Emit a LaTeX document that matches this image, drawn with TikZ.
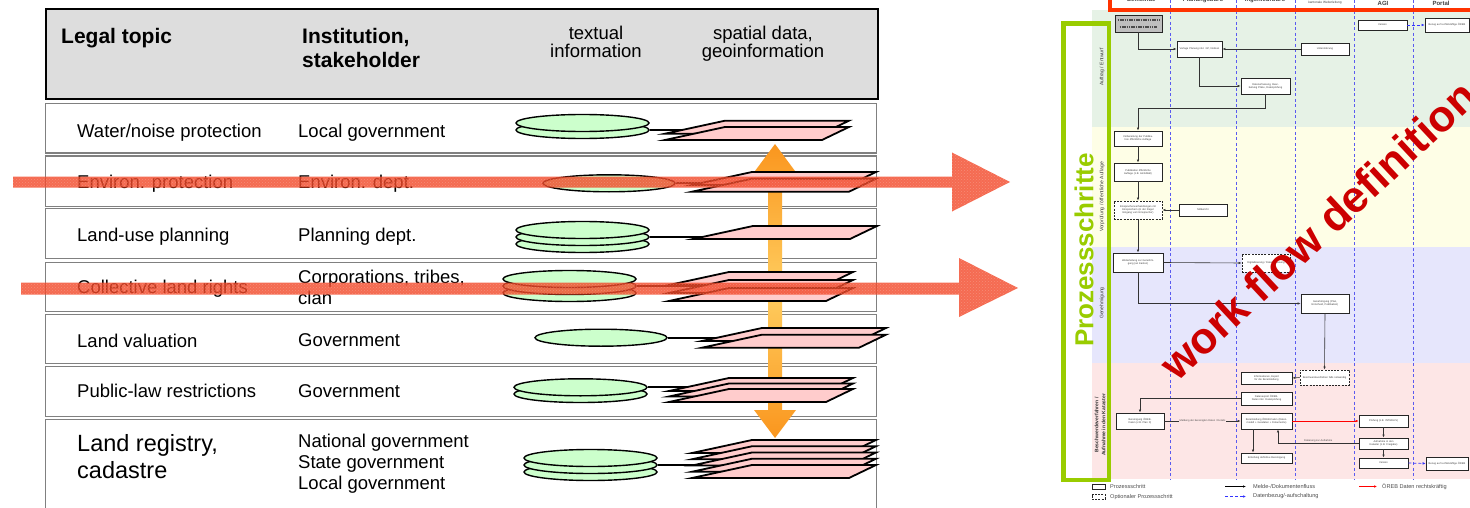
\documentclass[tikz,border=0pt]{standalone}
\usepackage{fontspec}
\setmainfont{Liberation Sans}
\usetikzlibrary{arrows.meta,patterns,shapes.geometric,calc}

\definecolor{hdrgray}{RGB}{221,221,221}
\definecolor{rowline}{RGB}{128,128,128}
\definecolor{discfill}{RGB}{204,255,204}
\definecolor{planefill}{RGB}{255,204,204}
\definecolor{arrowred}{RGB}{242,70,38}
\definecolor{orangedark}{RGB}{250,150,30}
\definecolor{orangelight}{RGB}{255,205,95}
\definecolor{lanegreen}{RGB}{230,242,230}
\definecolor{laneyellow}{RGB}{254,254,230}
\definecolor{laneblue}{RGB}{230,230,252}
\definecolor{lanepink}{RGB}{253,230,230}
\definecolor{procgreen}{RGB}{153,204,0}
\definecolor{hdrred}{RGB}{255,51,0}
\definecolor{wfred}{RGB}{204,0,0}
\definecolor{lanedash}{RGB}{90,90,240}

% one layer of spatial data: bottom-left corner at (#1,#2)
\newcommand{\geoplane}[2]{%
  \draw[planestyle] (#1,#2) -- ++(157,0) -- ++(27,-13) -- ++(-124,0) -- cycle;}

% process box of the swimlane chart
\newcommand{\wfbox}[6][]{%
  \pgfmathsetmacro\wftw{#4-3}%
  \node[flowbox,#1,minimum width=#4,minimum height=#5,text width=\wftw pt] (#2) at (#3) {#6};}

\begin{document}
\begin{tikzpicture}[x=1pt,y=-1pt,
  hdrbox/.style={draw=black,line width=1.8,fill=hdrgray,anchor=north west,minimum width=832,minimum height=90,inner sep=0},
  rowbox/.style={draw=rowline,line width=1.2,fill=white,anchor=north west,minimum width=831,inner sep=0},
  hdrtxt/.style={font=\bfseries\fontsize{21}{24}\selectfont,anchor=base west,inner sep=0},
  coltxt/.style={font=\fontsize{18.5}{21}\selectfont,anchor=base,inner sep=0},
  rowtxt/.style={font=\fontsize{18.5}{21}\selectfont,anchor=base west,inner sep=0},
  bigtxt/.style={font=\fontsize{23.5}{27}\selectfont,anchor=base west,inner sep=0},
  disc/.style={ellipse,draw=black,line width=1.4,fill=discfill,inner sep=0,minimum height=17},
  planestyle/.style={draw=black,line width=1.8,fill=planefill,line join=miter},
  link/.style={draw=black,line width=1.8},
  bigarrow/.style={fill=arrowred,fill opacity=0.8},
  arrowtex/.style={pattern=crosshatch dots,pattern color=white,opacity=0.22},
  lane/.style={inner sep=0,anchor=north west,minimum width=390},
  lanetxt/.style={font=\fontsize{5}{6}\selectfont,text=black!80,rotate=90,inner sep=0,align=center},
  flowbox/.style={draw=black!85,fill=white,line width=0.7,inner sep=0.3,align=center,
                  font=\fontsize{2.6}{3.1}\selectfont,text=black!75},
  optbox/.style={dashed,dash pattern=on 2pt off 1.2pt},
  flowk/.style={draw=black!80,line width=0.6,-{Latex[length=3,width=2.4]}},
  flowb/.style={draw=blue!80,line width=0.7,dash pattern=on 3pt off 2pt,-{Latex[length=3,width=2.6]}},
  flowr/.style={draw=red,line width=0.7,-{Latex[length=3,width=2.6]}},
  flowlbl/.style={font=\fontsize{2.6}{3}\selectfont,text=black!70,inner sep=0.4},
  wfhead/.style={font=\bfseries\fontsize{6}{7}\selectfont,text=black!75,anchor=base,inner sep=0},
  legtxt/.style={font=\fontsize{5.6}{6.5}\selectfont,text=black!70,anchor=west,inner sep=0},
  coldash/.style={draw=lanedash,line width=0.8,dash pattern=on 3pt off 2.5pt}
]
\useasboundingbox (0,0) rectangle (1470,508);

% ---------------- table of legal topics ----------------
\node[hdrbox] (hdr) at (45,8) {};
\node[hdrtxt] (hLegal) at (61,44) {Legal topic};
\node[hdrtxt] (hInstA) at (302,44) {Institution,};
\node[hdrtxt] (hInstB) at (302,68) {stakeholder};
\node[coltxt] (hTextA) at (596,40) {textual};
\node[coltxt] (hTextB) at (596,58) {information};
\node[coltxt] (hGeoA) at (763,40) {spatial data,};
\node[coltxt] (hGeoB) at (763,58) {geoinformation};

\node[rowbox,minimum height=49.5] (row1) at (45,103) {};
\node[rowbox,minimum height=50] (row2) at (45,155.5) {};
\node[rowbox,minimum height=50] (row3) at (45,208) {};
\node[rowbox,minimum height=49.5] (row4) at (45,261.5) {};
\node[rowbox,minimum height=49.5] (row5) at (45,313.5) {};
\node[rowbox,minimum height=50] (row6) at (45,366) {};
\node[rowbox,minimum height=110] (row7) at (45,419) {};

\node[rowtxt] (t1) at (77,138) {Water/noise protection};
\node[rowtxt] (i1) at (298,138) {Local government};
\node[rowtxt] (t2) at (77,188) {Environ. protection};
\node[rowtxt] (i2) at (298,188) {Environ. dept.};
\node[rowtxt] (t3) at (77,241) {Land-use planning};
\node[rowtxt] (i3) at (298,241) {Planning dept.};
\node[rowtxt] (t4) at (77,293) {Collective land rights};
\node[rowtxt] (i4a) at (298,283) {Corporations, tribes,};
\node[rowtxt] (i4b) at (298,304) {clan};
\node[rowtxt] (t5) at (77,347) {Land valuation};
\node[rowtxt] (i5) at (298,346) {Government};
\node[rowtxt] (t6) at (77,397) {Public-law restrictions};
\node[rowtxt] (i6) at (298,397) {Government};
\node[bigtxt] (t7a) at (77,451) {Land registry,};
\node[bigtxt] (t7b) at (77,478) {cadastre};
\node[rowtxt] (i7a) at (298,447) {National government};
\node[rowtxt] (i7b) at (298,468) {State government};
\node[rowtxt] (i7c) at (298,489) {Local government};

% orange double arrow behind the data layers
\path[top color=orangedark,bottom color=orangedark,middle color=orangelight]
  (775,144) -- (795,171) -- (782,171) -- (782,410) -- (796,410) -- (775,438)
  -- (754,410) -- (768,410) -- (768,171) -- (755,171) -- cycle;

% textual information: stacked discs (lowest first)
\node[disc,minimum width=133] (d1b) at (582.5,130) {};
\node[disc,minimum width=133] (d1a) at (582.5,123) {};
\node[disc,minimum width=132] (d2a) at (609,183.3) {};
\node[disc,minimum width=133] (d3c) at (582.5,244) {};
\node[disc,minimum width=133] (d3b) at (582.5,237) {};
\node[disc,minimum width=133] (d3a) at (582.5,230) {};
\node[disc,minimum width=133] (d4c) at (569.5,293) {};
\node[disc,minimum width=133] (d4b) at (569.5,286) {};
\node[disc,minimum width=133] (d4a) at (569.5,279) {};
\node[disc,minimum width=132] (d5a) at (601,337.7) {};
\node[disc,minimum width=133] (d6b) at (580.5,394) {};
\node[disc,minimum width=133] (d6a) at (580.5,387.3) {};
\node[disc,minimum width=133] (d7c) at (590.5,472) {};
\node[disc,minimum width=133] (d7b) at (590.5,465) {};
\node[disc,minimum width=133] (d7a) at (590.5,458) {};

% link ends, hidden under the data layers
\coordinate (p1) at (705,130);
\coordinate (p2) at (715,183.3);
\coordinate (p3) at (715,237);
\coordinate (p4) at (700,286);
\coordinate (p5) at (725,337.7);
\coordinate (p6) at (700,387.3);
\coordinate (p7) at (715,465);
\draw[link] (d1b.east) -- (p1);
\draw[link] (d2a.east) -- (p2);
\draw[link] (d3b.east) -- (p3);
\draw[link] (d4b.east) -- (p4);
\draw[link] (d5a.east) -- (p5);
\draw[link] (d6a.east) -- (p6);
\draw[link] (d7b.east) -- (p7);

% spatial data: stacked layers (highest first)
\geoplane{665}{133.7}\geoplane{665}{140}
\geoplane{692}{185}\geoplane{692}{191.7}
\geoplane{693}{239}
\geoplane{669}{285}\geoplane{669}{293}\geoplane{669}{301}
\geoplane{702}{341}\geoplane{702}{347.7}
\geoplane{669}{391}\geoplane{669}{396.5}\geoplane{669}{402}
\geoplane{692}{453}\geoplane{692}{459.25}\geoplane{692}{465.5}\geoplane{692}{471.75}\geoplane{692}{478}

% ---------------- swimlane work flow ----------------
\node[lane,fill=lanegreen,minimum height=117] (lane1) at (1092,10) {};
\node[lane,fill=laneyellow,minimum height=120] (lane2) at (1092,127) {};
\node[lane,fill=laneblue,minimum height=116] (lane3) at (1092,247) {};
\node[lane,fill=lanepink,minimum height=116] (lane4) at (1092,363) {};
\fill[white] (1066,23) rectangle (1092,480);

\foreach \cx in {1170,1236,1295,1354,1413} \draw[coldash] (\cx,0) -- (\cx,479);

\draw[hdrred,line width=4] (1110,-10) rectangle (1490,10);
\node[wfhead] (c1) at (1141,2) {Gemeinde};
\node[wfhead] (c2) at (1203,2) {Planungsbüro};
\node[wfhead] (c3) at (1265,2) {Ingenieurbüro};
\node[wfhead,font=\fontsize{3.2}{4}\selectfont] (c4) at (1325,3.5) {kantonale Weiterleitung};
\node[wfhead] (c5) at (1383,6) {AGI};
\node[wfhead] (c6) at (1441,6) {Portal};

\node[lanetxt] (l1) at (1102,67) {Auftrag / Entwurf};
\node[lanetxt] (l2) at (1102,197) {Vorprüfung / öffentliche Auflage};
\node[lanetxt] (l3) at (1102,303) {Genehmigung};
\node[lanetxt,font=\bfseries\fontsize{5}{7}\selectfont] (l4) at (1100,425) {Beschwerdeverfahren /\\Aufnahme in den Kataster};

\draw[procgreen,line width=4.5] (1063.5,23.5) rectangle (1109,480);
\node[font=\bfseries\fontsize{26}{28}\selectfont,text=procgreen,rotate=90,inner sep=0] (proc) at (1084,250) {Prozessschritte};

% process boxes
\node[flowbox,minimum width=47,minimum height=17,fill=black!25] (B1) at (1138.5,23.5) {};
\draw[black!70,line width=2.2,dash pattern=on 1.6pt off 0.7pt] ($(B1.west)+(3,-3.5)$) -- ($(B1.east)+(-3,-3.5)$);
\draw[black!70,line width=2.2,dash pattern=on 1.6pt off 0.7pt] ($(B1.west)+(5,3.5)$) -- ($(B1.east)+(-5,3.5)$);
\wfbox{B2}{1199.5,49}{45}{16}{Vorlage Planung inkl. GP, Notizen}
\wfbox{B3}{1325,49}{48}{12}{Unterstützung}
\wfbox{B4}{1265.5,86}{49}{16}{Datenerfassung, Bearbeitung Pläne, Datenprüfung}
\wfbox{B5}{1382.5,25}{49}{10}{Version}
\wfbox{B6}{1447,25}{44}{14}{Bezug auf rechtskräftige ÖREB}
\wfbox{B7}{1138,138.5}{48}{15}{Vorbereitung der Publikation öffentliche Auflage}
\wfbox{B8}{1138,172}{48}{18}{Publikation öffentliche Auflage (z.B. Amtsblatt)}
\wfbox[optbox]{B9}{1138,210}{48}{18}{Einsprachenverhandlungen mit Einsprechern (in der Regel Eingang vom Einsprecher)}
\wfbox{B10}{1203,210}{48}{12}{Mitbericht}
\wfbox{B11}{1138,262.5}{50}{19}{Weiterleitung zur Genehmigung (an Kanton)}
\wfbox[optbox]{B12}{1266,263}{48}{18}{Digitalisierung / Datenerfassung}
\wfbox{B13}{1325,303.5}{48}{19}{Genehmigung (Plan, Entscheid, Publikation)}
\wfbox[optbox]{B14}{1324.5,377.5}{49}{15}{Beschwerdeverfahren falls notwendig}
\wfbox{B15}{1266.5,378}{51}{12}{Informationen, Export für die Bereitstellung}
\wfbox{B16}{1266.5,398.5}{51}{13}{Datenexport ÖREB-Daten inkl. Datenprüfung}
\wfbox{B17}{1140,421}{48}{16}{Bereinigung ÖREB-Daten (z.B. Plan X)}
\wfbox{B18}{1266.5,421}{51}{16}{Bereitstellung ÖREB-Daten (Datenmodell + Geodaten + Dokumente)}
\wfbox{B19}{1266.5,458}{51}{10}{Erstellung definitive Bereinigung}
\wfbox{B20}{1383.5,421}{49}{12}{Prüfung (z.B. INTERLIS)}
\wfbox{B21}{1383.5,443.5}{49}{11}{Aufnahme in den Kataster (z.B. Freigabe)}
\wfbox{B22}{1383.5,463}{49}{10}{Version}
\wfbox{B23}{1447,463.5}{42}{13}{Bezug auf rechtskräftige ÖREB}

% flow connectors
\coordinate (k1) at (1138,108);
\coordinate (k2) at (1278,443.5);
\coordinate (k3) at (1253,0);
\draw[flowk] (B1.south) |- (B2.west);
\draw[flowk] (B3.west) -- (B2.east);
\draw[flowk] (B2.south) |- (B4.west);
\draw[flowk] (B4.south) |- (k1) -- (B7.north);
\draw[flowk] (B7.south) -- (B8.north);
\draw[flowk] (B8.south) -- (B9.north);
\draw[flowk] (B10.west) -- (B9.east);
\draw[flowk] (B9.south) -- (B11.north);
\draw[flowk] (B11.east) -- (B12.west);
\draw[flowk] (B11.south) |- (B13.west);
\draw[flowk] (B13.south) -- (B14.north);
\draw[flowk] (B14.west) -- (B15.east);
\draw[flowk] (B16.west) -| (B17.north);
\draw[flowk] (B17.east) -- node[flowlbl,fill=lanepink,above=-1.5] (m1) {Meldung der bereinigten Daten / Details} (B18.west);
\draw[flowr] (B18.east) -- (B20.west);
\draw[flowk] (B20.south) -- (B21.north);
\draw[flowk] (B21.west) -- node[flowlbl,above=0.6] (m2) {Datierung zur Aufnahme} (k2) -- (k2 |- B18.south);
\draw[flowk] (B18.south -| k3) -- (B19.north -| k3);
\draw[flowk] (B21.south) -- (B22.north);
\draw[flowb] (B22.east) -- (B23.west);
\draw[flowb] (B5.east) -- (B6.west);

% legend
\node[flowbox,minimum width=13,minimum height=4.5] (lg1) at (1098.5,487) {};
\node[legtxt] (lg1t) at (1110,486.5) {Prozessschritt};
\node[flowbox,optbox,minimum width=13,minimum height=4.5] (lg2) at (1098.5,497) {};
\node[legtxt] (lg2t) at (1110,497) {Optionaler Prozessschritt};
\coordinate (lg3a) at (1225,486.5); \coordinate (lg3b) at (1246,486.5);
\draw[flowk,draw=black] (lg3a) -- (lg3b);
\node[legtxt] (lg3t) at (1253,486.5) {Melde-/Dokumentenfluss};
\coordinate (lg4a) at (1225,496.5); \coordinate (lg4b) at (1246,496.5);
\draw[flowb] (lg4a) -- (lg4b);
\node[legtxt] (lg4t) at (1253,496.5) {Datenbezug/-aufschaltung};
\coordinate (lg5a) at (1359,486.5); \coordinate (lg5b) at (1377,486.5);
\draw[flowr] (lg5a) -- (lg5b);
\node[legtxt] (lg5t) at (1382,486.5) {ÖREB Daten rechtskräftig};

\node[font=\bfseries\fontsize{44}{44}\selectfont,text=wfred,rotate=43,inner sep=0] (wf) at (1318,230) {work flow definition};

% ---------------- translucent red arrows across the table ----------------
\path[bigarrow] (13,176.5) -- (952,176.5) -- (952,152.5) -- (1010,182) -- (952,211.5) -- (952,187.5) -- (13,187.5) -- cycle;
\path[arrowtex] (13,176.5) -- (952,176.5) -- (952,152.5) -- (1010,182) -- (952,211.5) -- (952,187.5) -- (13,187.5) -- cycle;
\path[bigarrow] (21,282.5) -- (959,282.5) -- (959,258) -- (1018,288) -- (959,317) -- (959,294.5) -- (21,294.5) -- cycle;
\path[arrowtex] (21,282.5) -- (959,282.5) -- (959,258) -- (1018,288) -- (959,317) -- (959,294.5) -- (21,294.5) -- cycle;
\end{tikzpicture}
\end{document}
